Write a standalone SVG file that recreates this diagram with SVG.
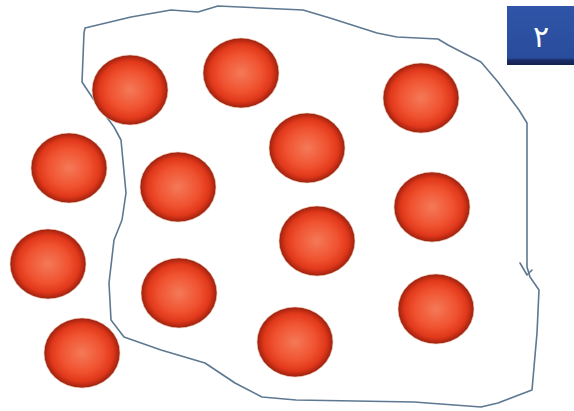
<svg xmlns="http://www.w3.org/2000/svg" width="574" height="411" viewBox="0 0 574 411">
<defs>
<radialGradient id="ball" cx="50%" cy="50%" r="50%">
<stop offset="0%" stop-color="#f47a58"/>
<stop offset="55%" stop-color="#f05230"/>
<stop offset="82%" stop-color="#e0381a"/>
<stop offset="94%" stop-color="#b52812"/>
<stop offset="100%" stop-color="#8c2414"/>
</radialGradient>
<linearGradient id="box" x1="0" y1="0" x2="0" y2="1">
<stop offset="0%" stop-color="#2f55a8"/>
<stop offset="88%" stop-color="#2a4c9c"/>
<stop offset="92%" stop-color="#1a2c66"/>
<stop offset="100%" stop-color="#15224f"/>
</linearGradient>
</defs>
<style>
.b{fill:url(#ball);stroke:#f8c8b0;stroke-width:1;stroke-opacity:0.6}
.curve{fill:none;stroke:#5d7891;stroke-width:1.6;stroke-linejoin:round;stroke-linecap:round}
.num{font-family:"DejaVu Sans",sans-serif;font-size:30px;fill:#ffffff;text-anchor:middle}
</style>
<rect width="574" height="411" fill="#ffffff"/>
<g id="connectors">
<path class="curve" d="M85,28 L131,17 L171,10 L198,12 L218,6 L303,10 L330,18 L377,33 L397,37 L438,39 L448,45 L481,62 L498,82 L519,110 L527,123 L527,200 L527,267 L530,277 L539,290 L537,333 L532,390 L498,403 L481,407 L414,402 L296,400 L262,397 L235,383 L205,363 L161,350 L124,337 L111,320 L109,283 L114,240 L122,220 L126,193 L121,140 L114,127 L94,100 L82,82 L84,33 Z"/>
<path class="curve" d="M520,263 L527,275 L532,270"/>
</g>
<g id="n1"><ellipse class="b" cx="130" cy="90" rx="38" ry="35"/></g>
<g id="n2"><ellipse class="b" cx="241" cy="73" rx="38" ry="35"/></g>
<g id="n3"><ellipse class="b" cx="421" cy="98" rx="38" ry="35"/></g>
<g id="n4"><ellipse class="b" cx="69" cy="168" rx="38" ry="35"/></g>
<g id="n5"><ellipse class="b" cx="178" cy="187" rx="38" ry="35"/></g>
<g id="n6"><ellipse class="b" cx="307" cy="148" rx="38" ry="35"/></g>
<g id="n7"><ellipse class="b" cx="432" cy="207" rx="38" ry="35"/></g>
<g id="n8"><ellipse class="b" cx="48" cy="264" rx="38" ry="35"/></g>
<g id="n9"><ellipse class="b" cx="317" cy="241" rx="38" ry="35"/></g>
<g id="n10"><ellipse class="b" cx="179" cy="293" rx="38" ry="35"/></g>
<g id="n11"><ellipse class="b" cx="436" cy="309" rx="38" ry="35"/></g>
<g id="n12"><ellipse class="b" cx="295" cy="342" rx="38" ry="35"/></g>
<g id="n13"><ellipse class="b" cx="82" cy="353" rx="38" ry="35"/></g>
<g id="label">
<rect x="507" y="6" width="67" height="59" fill="url(#box)"/>
<text class="num" x="541" y="47">٢</text>
</g>
</svg>
